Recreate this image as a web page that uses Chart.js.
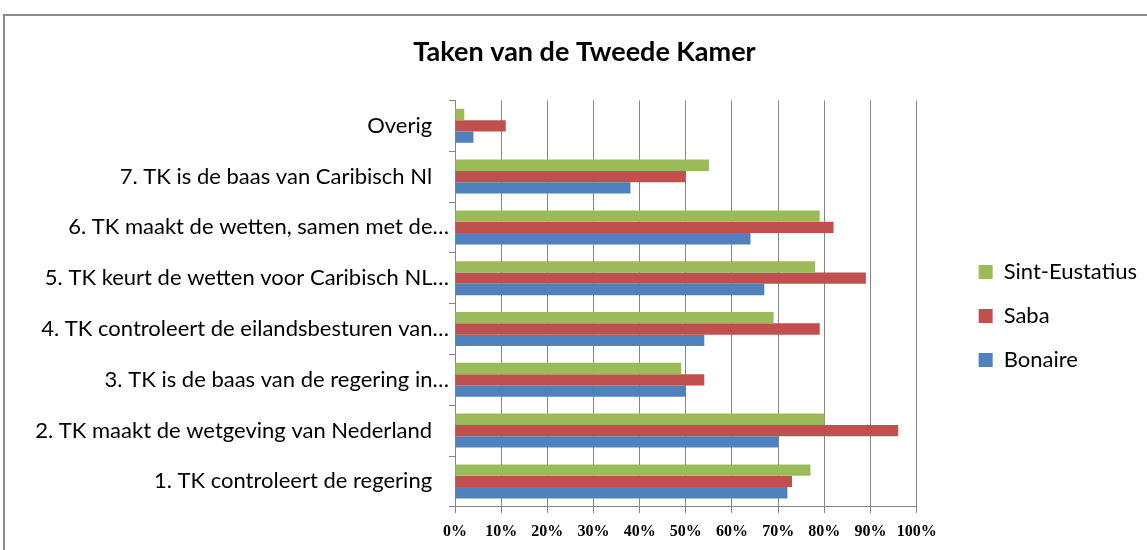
<!DOCTYPE html>
<html>
<head>
<meta charset="utf-8">
<title>Taken van de Tweede Kamer</title>
<script src="https://cdn.jsdelivr.net/npm/chart.js@4.4.1/dist/chart.umd.min.js"></script>
<style>
  html, body { margin: 0; padding: 0; background: #fff; overflow: hidden; }
  #frame { position: absolute; left: 3px; top: 14px; width: 1200px; height: 600px;
           border-top: 2px solid #8a8a8a; border-left: 2px solid #8a8a8a; }
  #chart { position: absolute; left: 0; top: 0; }
</style>
</head>
<body>
<div id="frame"></div>
<canvas id="chart" width="1147" height="550"></canvas>
<script>
const categories = [
  '1. TK controleert de regering',
  '2. TK maakt de wetgeving van Nederland',
  '3. TK is de baas van de regering in…',
  '4. TK controleert de eilandsbesturen van…',
  '5. TK keurt de wetten voor Caribisch NL…',
  '6. TK maakt de wetten, samen met de…',
  '7. TK is de baas van Caribisch Nl',
  'Overig',
];
const sintEustatius = [77, 80, 49, 69, 78, 79, 55, 2];
const saba = [73, 96, 54, 79, 89, 82, 50, 11];
const bonaire = [72, 70, 50, 54, 67, 64, 38, 4];

const labelFont = 'Lato';

// moves the legend and title boxes after layout (Excel puts the legend further right)
const boxNudge = {
  id: 'boxNudge',
  afterLayout(chart, args, opts) {
    const lg = chart.legend;
    if (lg) {
      lg.left += opts.legendDx; lg.right += opts.legendDx;
      lg.top += opts.legendDy; lg.bottom += opts.legendDy;
    }
    const tb = chart.titleBlock;
    if (tb) { tb.left += opts.titleDx; tb.right += opts.titleDx; }
  },
};

new Chart(document.getElementById('chart'), {
  type: 'bar',
  data: {
    labels: categories,
    datasets: [
      { label: 'Sint-Eustatius', data: sintEustatius, backgroundColor: '#9bbb59' },
      { label: 'Saba', data: saba, backgroundColor: '#c0504d' },
      { label: 'Bonaire', data: bonaire, backgroundColor: '#4f81bd' },
    ],
  },
  plugins: [boxNudge],
  options: {
    responsive: false,
    animation: false,
    indexAxis: 'y',
    layout: { padding: { left: 20, right: 40, top: 0, bottom: 0 } },
    datasets: { bar: { categoryPercentage: 0.67, barPercentage: 1 } },
    plugins: {
      title: {
        display: true,
        text: 'Taken van de Tweede Kamer',
        color: '#000',
        font: { family: labelFont, size: 27, weight: 'bold' },
        padding: { top: 36, bottom: 32 },
      },
      legend: {
        position: 'right',
        labels: {
          color: '#000',
          font: { family: labelFont, size: 22 },
          boxWidth: 14,
          boxHeight: 14,
          padding: 22,
        },
      },
      tooltip: { enabled: false },
      boxNudge: { legendDx: 40, legendDy: 41, titleDx: 21 },
    },
    scales: {
      x: {
        min: 0,
        max: 100,
        ticks: {
          stepSize: 10,
          callback: (v) => v + '%',
          color: '#000',
          font: { family: 'Liberation Serif', size: 16, weight: 'bold' },
          padding: 9,
        },
        grid: { color: '#868686', tickLength: 6 },
        border: { color: '#868686' },
      },
      y: {
        reverse: true,
        ticks: {
          color: '#000',
          font: { family: labelFont, size: 22 },
          padding: 0,
          callback(v) {
            const s = this.getLabelForValue(v);
            return s.endsWith('…') ? s : s + '   ';
          },
        },
        grid: { offset: true, drawOnChartArea: false, tickLength: 6, color: '#868686' },
        border: { color: '#868686' },
        afterFit(scale) { scale.width = 435; },
      },
    },
  },
});
</script>
</body>
</html>
